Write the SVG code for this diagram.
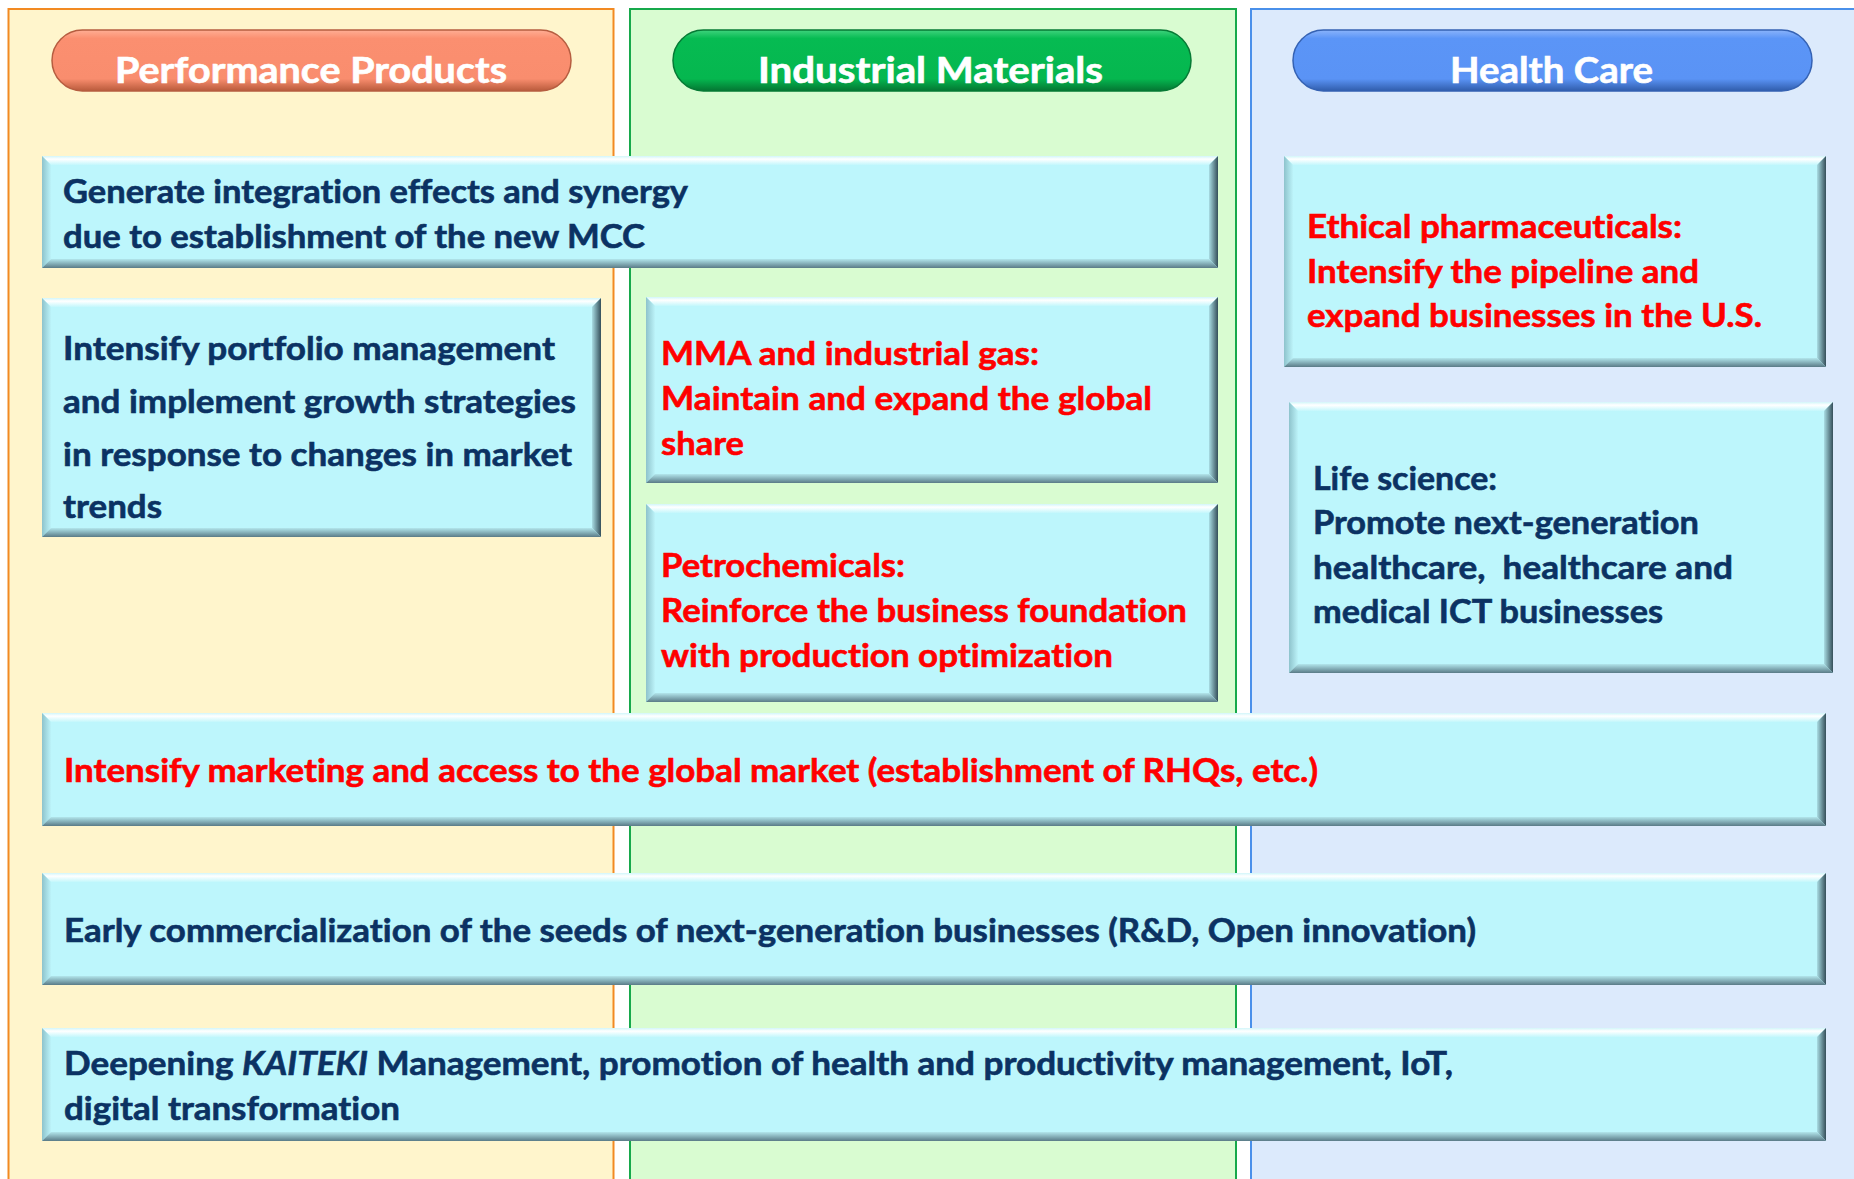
<svg xmlns="http://www.w3.org/2000/svg" width="1854" height="1179" viewBox="0 0 1854 1179">
  <defs>
    <!-- bevelled cyan panels -->
    <linearGradient id="gTop" x1="0" y1="0" x2="0" y2="1">
      <stop offset="0" stop-color="#d2f6fa"/>
      <stop offset="0.35" stop-color="#ffffff"/>
      <stop offset="1" stop-color="#c3f7fc"/>
    </linearGradient>
    <linearGradient id="gLeft" x1="0" y1="0" x2="1" y2="0">
      <stop offset="0" stop-color="#8ec3cc"/>
      <stop offset="1" stop-color="#bcf3f9"/>
    </linearGradient>
    <linearGradient id="gRight" x1="0" y1="0" x2="1" y2="0">
      <stop offset="0" stop-color="#a9dde4"/>
      <stop offset="1" stop-color="#354f5a"/>
    </linearGradient>
    <linearGradient id="gBottom" x1="0" y1="0" x2="0" y2="1">
      <stop offset="0" stop-color="#b2e6ec"/>
      <stop offset="1" stop-color="#5a7b87"/>
    </linearGradient>
    <!-- pill headers -->
    <linearGradient id="pOrange" x1="0" y1="0" x2="0" y2="1">
      <stop offset="0" stop-color="#ffae94"/>
      <stop offset="0.14" stop-color="#fb8f70"/>
      <stop offset="0.80" stop-color="#f98d6e"/>
      <stop offset="1" stop-color="#b85a3b"/>
    </linearGradient>
    <linearGradient id="pGreen" x1="0" y1="0" x2="0" y2="1">
      <stop offset="0" stop-color="#3fd37d"/>
      <stop offset="0.14" stop-color="#06bb52"/>
      <stop offset="0.80" stop-color="#05b74f"/>
      <stop offset="1" stop-color="#047532"/>
    </linearGradient>
    <linearGradient id="pBlue" x1="0" y1="0" x2="0" y2="1">
      <stop offset="0" stop-color="#8ab3fb"/>
      <stop offset="0.14" stop-color="#5b95f7"/>
      <stop offset="0.80" stop-color="#5a93f5"/>
      <stop offset="1" stop-color="#305cab"/>
    </linearGradient>
  </defs>
  <style>
    .face { fill: #bdf6fc; }
    .bt { fill: url(#gTop); }
    .bl { fill: url(#gLeft); }
    .br { fill: url(#gRight); }
    .bb { fill: url(#gBottom); }
    text { font-family: Lato, "Open Sans", "Liberation Sans", sans-serif; font-weight: bold;
           font-variant-ligatures: none; font-feature-settings: "liga" 0, "clig" 0; }
    .t { font-size: 33px; fill: #0b3263; stroke: #0b3263; stroke-width: 0.6px; }
    .r { font-size: 33px; fill: #ff0000; stroke: #ff0000; stroke-width: 0.6px; }
    .h { font-size: 36px; fill: #ffffff; stroke: #ffffff; stroke-width: 0.6px; }
  </style>

  <!-- business columns -->
  <g id="columns">
    <rect x="8.5" y="9" width="605" height="1200" fill="#fff5cc" stroke="#f28a22" stroke-width="2"/>
    <rect x="630" y="9" width="606" height="1200" fill="#d9fcd1" stroke="#17a94b" stroke-width="2"/>
    <rect x="1251" y="9" width="700" height="1200" fill="#dceafc" stroke="#4a90ea" stroke-width="2"/>
  </g>

  <!-- column headers -->
  <g id="hdr-performance">
    <rect x="52" y="30" width="519" height="61" rx="30.5" fill="url(#pOrange)" stroke="#b65d40" stroke-width="1.5"/>
    <text class="h" x="115" y="83" textLength="392" lengthAdjust="spacingAndGlyphs">Performance Products</text>
  </g>
  <g id="hdr-industrial">
    <rect x="673" y="30" width="518" height="61" rx="30.5" fill="url(#pGreen)" stroke="#067a35" stroke-width="1.5"/>
    <text class="h" x="758" y="83" textLength="345" lengthAdjust="spacingAndGlyphs">Industrial Materials</text>
  </g>
  <g id="hdr-health">
    <rect x="1293" y="30" width="519" height="61" rx="30.5" fill="url(#pBlue)" stroke="#3562b3" stroke-width="1.5"/>
    <text class="h" x="1450" y="83" textLength="203" lengthAdjust="spacingAndGlyphs">Health Care</text>
  </g>

  <!-- synergy panel (x42 y156 w1176 h112) -->
  <g id="box-synergy">
    <rect class="face" x="42" y="156" width="1176" height="112"/>
    <polygon class="bt" points="42,156 1218,156 1209,165 51,165"/>
    <polygon class="bl" points="42,156 51,165 51,259 42,268"/>
    <polygon class="br" points="1218,156 1218,268 1209,259 1209,165"/>
    <polygon class="bb" points="42,268 1218,268 1209,259 51,259"/>
    <text class="t" x="63" y="203" textLength="625" lengthAdjust="spacingAndGlyphs">Generate integration effects and synergy</text>
    <text class="t" x="63" y="248" textLength="582" lengthAdjust="spacingAndGlyphs">due to establishment of the new MCC</text>
  </g>

  <!-- portfolio panel (x42 y298 w559 h239) -->
  <g id="box-portfolio">
    <rect class="face" x="42" y="298" width="559" height="239"/>
    <polygon class="bt" points="42,298 601,298 592,307 51,307"/>
    <polygon class="bl" points="42,298 51,307 51,528 42,537"/>
    <polygon class="br" points="601,298 601,537 592,528 592,307"/>
    <polygon class="bb" points="42,537 601,537 592,528 51,528"/>
    <text class="t" x="63" y="360" textLength="492" lengthAdjust="spacingAndGlyphs">Intensify portfolio management</text>
    <text class="t" x="63" y="413" textLength="513" lengthAdjust="spacingAndGlyphs">and implement growth strategies</text>
    <text class="t" x="63" y="466" textLength="509" lengthAdjust="spacingAndGlyphs">in response to changes in market</text>
    <text class="t" x="63" y="518" textLength="99" lengthAdjust="spacingAndGlyphs">trends</text>
  </g>

  <!-- MMA panel (x646 y297 w572 h186) -->
  <g id="box-mma">
    <rect class="face" x="646" y="297" width="572" height="186"/>
    <polygon class="bt" points="646,297 1218,297 1209,306 655,306"/>
    <polygon class="bl" points="646,297 655,306 655,474 646,483"/>
    <polygon class="br" points="1218,297 1218,483 1209,474 1209,306"/>
    <polygon class="bb" points="646,483 1218,483 1209,474 655,474"/>
    <text class="r" x="661" y="365" textLength="378" lengthAdjust="spacingAndGlyphs">MMA and industrial gas:</text>
    <text class="r" x="661" y="410" textLength="491" lengthAdjust="spacingAndGlyphs">Maintain and expand the global</text>
    <text class="r" x="661" y="455" textLength="83" lengthAdjust="spacingAndGlyphs">share</text>
  </g>

  <!-- petrochemicals panel (x646 y504 w572 h198) -->
  <g id="box-petro">
    <rect class="face" x="646" y="504" width="572" height="198"/>
    <polygon class="bt" points="646,504 1218,504 1209,513 655,513"/>
    <polygon class="bl" points="646,504 655,513 655,693 646,702"/>
    <polygon class="br" points="1218,504 1218,702 1209,693 1209,513"/>
    <polygon class="bb" points="646,702 1218,702 1209,693 655,693"/>
    <text class="r" x="661" y="577" textLength="244" lengthAdjust="spacingAndGlyphs">Petrochemicals:</text>
    <text class="r" x="661" y="622" textLength="526" lengthAdjust="spacingAndGlyphs">Reinforce the business foundation</text>
    <text class="r" x="661" y="667" textLength="452" lengthAdjust="spacingAndGlyphs">with production optimization</text>
  </g>

  <!-- pharmaceuticals panel (x1284 y156 w542 h211) -->
  <g id="box-pharma">
    <rect class="face" x="1284" y="156" width="542" height="211"/>
    <polygon class="bt" points="1284,156 1826,156 1817,165 1293,165"/>
    <polygon class="bl" points="1284,156 1293,165 1293,358 1284,367"/>
    <polygon class="br" points="1826,156 1826,367 1817,358 1817,165"/>
    <polygon class="bb" points="1284,367 1826,367 1817,358 1293,358"/>
    <text class="r" x="1307" y="238" textLength="375" lengthAdjust="spacingAndGlyphs">Ethical pharmaceuticals:</text>
    <text class="r" x="1307" y="283" textLength="392" lengthAdjust="spacingAndGlyphs">Intensify the pipeline and</text>
    <text class="r" x="1307" y="327" textLength="455" lengthAdjust="spacingAndGlyphs">expand businesses in the U.S.</text>
  </g>

  <!-- life science panel (x1289 y402 w544 h271) -->
  <g id="box-life">
    <rect class="face" x="1289" y="402" width="544" height="271"/>
    <polygon class="bt" points="1289,402 1833,402 1824,411 1298,411"/>
    <polygon class="bl" points="1289,402 1298,411 1298,664 1289,673"/>
    <polygon class="br" points="1833,402 1833,673 1824,664 1824,411"/>
    <polygon class="bb" points="1289,673 1833,673 1824,664 1298,664"/>
    <text class="t" x="1313" y="490" textLength="184" lengthAdjust="spacingAndGlyphs">Life science:</text>
    <text class="t" x="1313" y="534" textLength="386" lengthAdjust="spacingAndGlyphs">Promote next-generation</text>
    <text class="t" x="1313" y="579" textLength="420" lengthAdjust="spacingAndGlyphs">healthcare,&#160; healthcare and</text>
    <text class="t" x="1313" y="623" textLength="350" lengthAdjust="spacingAndGlyphs">medical ICT businesses</text>
  </g>

  <!-- marketing panel (x42 y713 w1784 h113) -->
  <g id="box-marketing">
    <rect class="face" x="42" y="713" width="1784" height="113"/>
    <polygon class="bt" points="42,713 1826,713 1817,722 51,722"/>
    <polygon class="bl" points="42,713 51,722 51,817 42,826"/>
    <polygon class="br" points="1826,713 1826,826 1817,817 1817,722"/>
    <polygon class="bb" points="42,826 1826,826 1817,817 51,817"/>
    <text class="r" x="64" y="782" textLength="1254" lengthAdjust="spacingAndGlyphs">Intensify marketing and access to the global market (establishment of RHQs, etc.)</text>
  </g>

  <!-- next-generation panel (x42 y873 w1784 h112) -->
  <g id="box-nextgen">
    <rect class="face" x="42" y="873" width="1784" height="112"/>
    <polygon class="bt" points="42,873 1826,873 1817,882 51,882"/>
    <polygon class="bl" points="42,873 51,882 51,976 42,985"/>
    <polygon class="br" points="1826,873 1826,985 1817,976 1817,882"/>
    <polygon class="bb" points="42,985 1826,985 1817,976 51,976"/>
    <text class="t" x="64" y="942" textLength="1412" lengthAdjust="spacingAndGlyphs">Early commercialization of the seeds of next-generation businesses (R&amp;D, Open innovation)</text>
  </g>

  <!-- KAITEKI panel (x42 y1028 w1784 h113) -->
  <g id="box-kaiteki">
    <rect class="face" x="42" y="1028" width="1784" height="113"/>
    <polygon class="bt" points="42,1028 1826,1028 1817,1037 51,1037"/>
    <polygon class="bl" points="42,1028 51,1037 51,1132 42,1141"/>
    <polygon class="br" points="1826,1028 1826,1141 1817,1132 1817,1037"/>
    <polygon class="bb" points="42,1141 1826,1141 1817,1132 51,1132"/>
    <text class="t" x="64" y="1075" textLength="1389" lengthAdjust="spacingAndGlyphs">Deepening <tspan font-style="italic">KAITEKI</tspan> Management, promotion of health and productivity management, IoT,</text>
    <text class="t" x="64" y="1120" textLength="336" lengthAdjust="spacingAndGlyphs">digital transformation</text>
  </g>
</svg>
